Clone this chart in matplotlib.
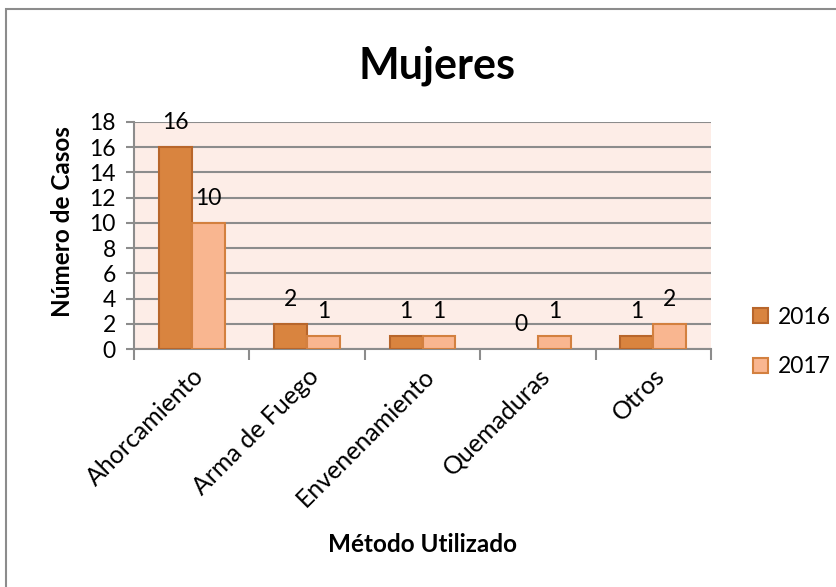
import matplotlib
matplotlib.use("Agg")
import matplotlib.pyplot as plt
from matplotlib.patches import Rectangle
import numpy as np

categories = ["Ahorcamiento", "Arma de Fuego", "Envenenamiento", "Quemaduras", "Otros"]
series_names = ["2016", "2017"]
values_2016 = [16, 2, 1, 0, 1]
values_2017 = [10, 1, 1, 1, 2]
y_ticks = [0, 2, 4, 6, 8, 10, 12, 14, 16, 18]

plt.rcParams['font.family'] = ['Lato', 'DejaVu Sans']

W, H = 836, 587
fig = plt.figure(figsize=(W / 100, H / 100), dpi=100)
fig.patch.set_facecolor("white")

# outer chart border
fig.add_artist(Rectangle((6 / W, -0.01), 1.0, 1 - 9 / H + 0.01, transform=fig.transFigure,
                         fill=False, edgecolor="#8c8c8c", linewidth=1.5))

ax = fig.add_axes([134 / W, 1 - 349 / H, (711 - 134) / W, (349 - 122) / H])
ax.set_facecolor("#fdede7")

x = np.arange(len(categories))
bw = 1 / 3.5
c16, e16 = "#d9843f", "#b8662b"
c17, e17 = "#f9b690", "#d3803f"
b1 = ax.bar(x - bw / 2, values_2016, bw, color=c16, edgecolor=e16, linewidth=1.5, label=series_names[0], zorder=3)
b2 = ax.bar(x + bw / 2, values_2017, bw, color=c17, edgecolor=e17, linewidth=1.5, label=series_names[1], zorder=3)

NFS = 16.5
for bars, vals in ((b1, values_2016), (b2, values_2017)):
    for rect, v in zip(bars, vals):
        if v == 0:
            rect.set_visible(False)
        ax.annotate(str(v), (rect.get_x() + rect.get_width() / 2, v), xytext=(0, 10),
                    textcoords="offset points", ha="center", va="bottom", fontsize=NFS, zorder=4)

ax.set_xlim(-0.5, len(categories) - 0.5)
ax.set_ylim(0, 18)
ax.set_yticks(y_ticks)
ax.yaxis.grid(True, color="#8c8c8c", linewidth=1.5, zorder=1)
ax.set_axisbelow(True)
ax.tick_params(axis="y", labelsize=NFS, length=6, width=1.5, color="#8c8c8c", pad=7)
ax.set_xticks(np.arange(len(categories) + 1) - 0.5)
ax.set_xticklabels([])
ax.set_xticks(x, minor=True)
ax.set_xticklabels(categories, minor=True, rotation=45, ha="right", va="top",
                   rotation_mode="anchor", fontsize=18)
ax.tick_params(axis="x", which="major", length=8, width=1.5, color="#8c8c8c")
ax.tick_params(axis="x", which="minor", length=0, pad=11)
for s in ("top", "right"):
    ax.spines[s].set_visible(False)
for s in ("left", "bottom"):
    ax.spines[s].set_color("#8c8c8c")
    ax.spines[s].set_linewidth(1.5)

fig.text(437 / W, 1 - 66 / H, "Mujeres", ha="center", va="center", fontsize=31, fontweight="bold")
fig.text(62 / W, 1 - 222 / H, "Número de Casos", ha="center", va="center", rotation=90,
         fontsize=17.5, fontweight="bold")
fig.text(422 / W, 1 - 545 / H, "Método Utilizado", ha="center", va="center",
         fontsize=17.5, fontweight="bold")

fig.legend(handles=[b1, b2], labels=series_names, loc="center left",
           bbox_to_anchor=(753 / W, 1 - 342 / H), frameon=False, fontsize=NFS, borderpad=0,
           borderaxespad=0, handlelength=0.65, handleheight=0.65, handletextpad=0.45,
           labelspacing=1.25)

fig.savefig("out.png", dpi=100)
